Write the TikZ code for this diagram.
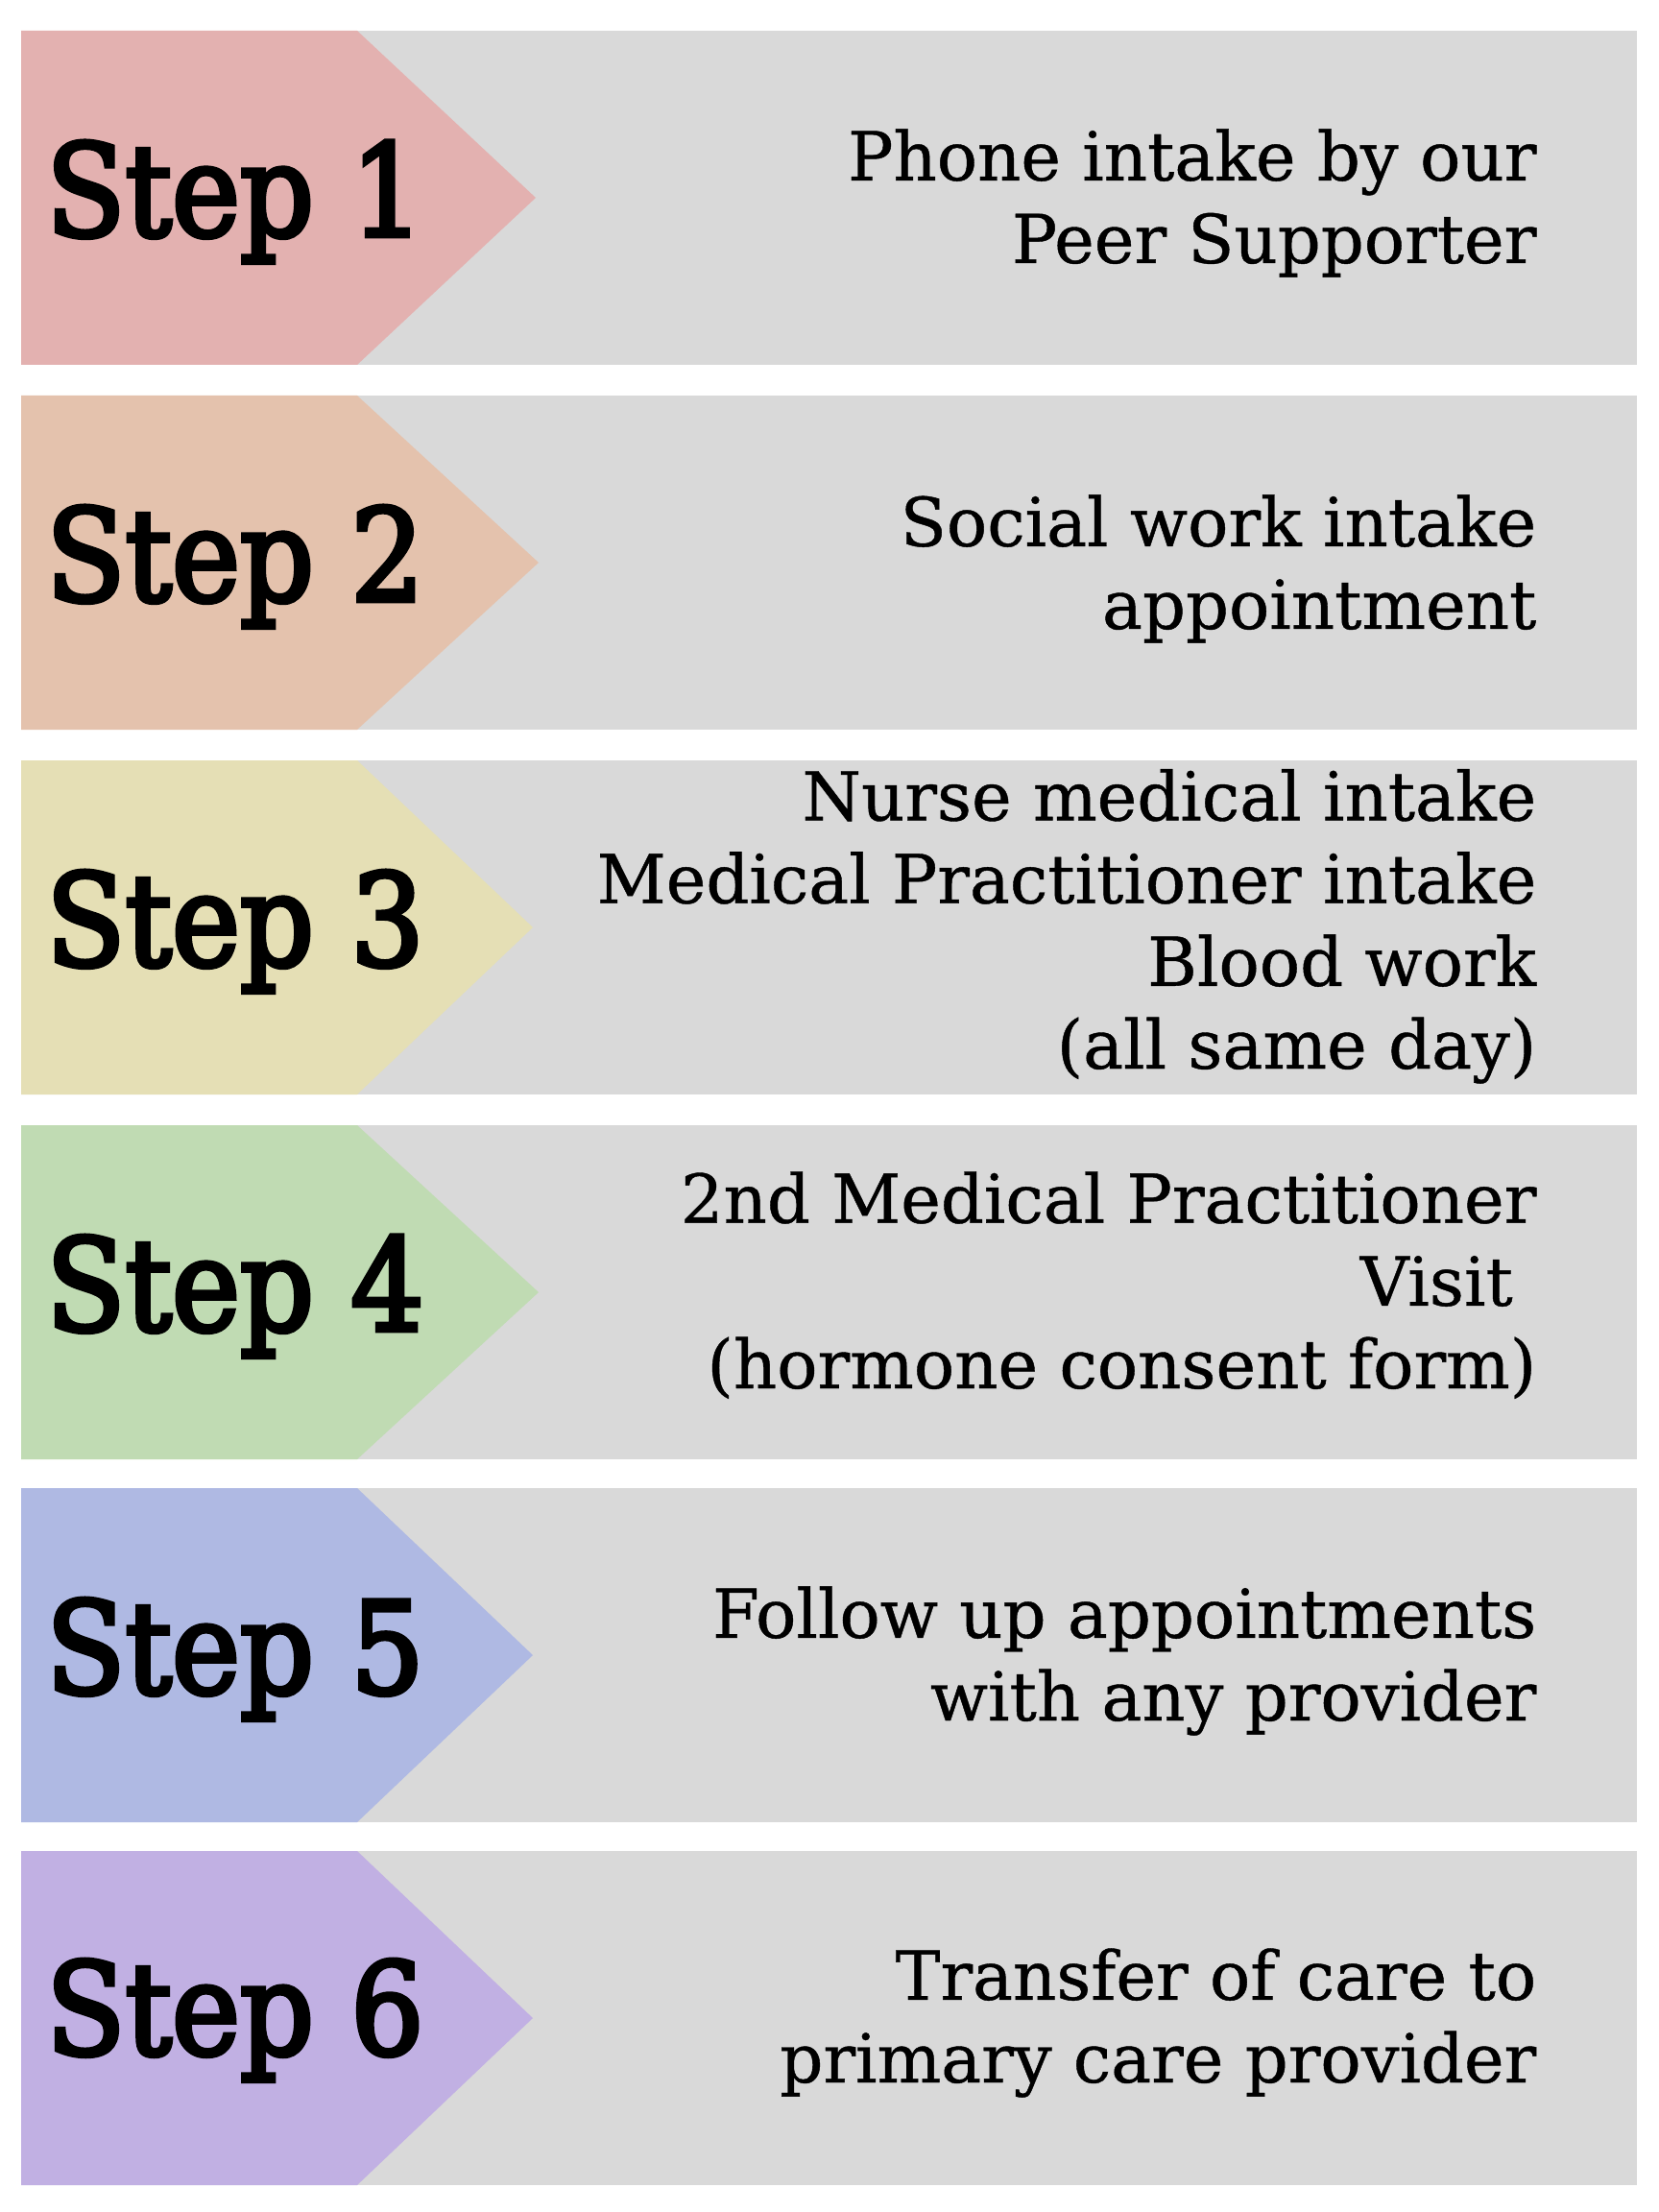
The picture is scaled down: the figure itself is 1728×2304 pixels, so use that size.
\documentclass[tikz,border=0pt]{standalone}
\usepackage{fontspec}
\setmainfont{DejaVu Serif}[FakeBold=0.6]
\newfontfamily\stepfont{DejaVu Serif}[FakeStretch=0.9, FakeBold=3.5]

\definecolor{boxgray}{RGB}{217,217,217}
\definecolor{stepred}{RGB}{227,177,176}
\definecolor{steporange}{RGB}{228,194,173}
\definecolor{stepyellow}{RGB}{229,223,181}
\definecolor{stepgreen}{RGB}{192,219,179}
\definecolor{stepblue}{RGB}{175,185,227}
\definecolor{steppurple}{RGB}{193,176,227}

\begin{document}
\begin{tikzpicture}[x=0.01cm, y=-0.01cm,
        stepbox/.style={fill=boxgray},
        steplabel/.style={anchor=base, inner sep=0pt, font=\stepfont\fontsize{38}{40}\selectfont},
        steptext/.style={anchor=base east, align=right, inner sep=0pt, font=\fontsize{20}{24.5}\selectfont}]
        \useasboundingbox (0, 0) rectangle (1728, 2304);
        \fill[white] (0, 0) rectangle (1728, 2304);

        % Step 1
        \fill[stepbox] (22, 32) rectangle (1705, 380);
        \fill[stepred] (22, 32) -- (372, 32) -- (558, 206) -- (372, 380) -- (22, 380) -- cycle;
        \node[steplabel] (s1) at (245, 246) {Step 1};
        \node[steptext] (t1) at (1601, 274) {Phone intake by our\\Peer Supporter};

        % Step 2
        \fill[stepbox] (22, 412) rectangle (1705, 760);
        \fill[steporange] (22, 412) -- (372, 412) -- (561, 586) -- (372, 760) -- (22, 760) -- cycle;
        \node[steplabel] (s2) at (245, 626) {Step 2};
        \node[steptext] (t2) at (1601, 655) {Social work intake\\appointment};

        % Step 3
        \fill[stepbox] (22, 792) rectangle (1705, 1140);
        \fill[stepyellow] (22, 792) -- (372, 792) -- (555, 966) -- (372, 1140) -- (22, 1140) -- cycle;
        \node[steplabel] (s3) at (245, 1006) {Step 3};
        \node[steptext] (t3) at (1601, 1113) {Nurse medical intake\\Medical Practitioner intake\\Blood work\\(all same day)};

        % Step 4
        \fill[stepbox] (22, 1172) rectangle (1705, 1520);
        \fill[stepgreen] (22, 1172) -- (372, 1172) -- (561, 1346) -- (372, 1520) -- (22, 1520) -- cycle;
        \node[steplabel] (s4) at (245, 1386) {Step 4};
        \node[steptext] (t4) at (1601, 1446) {2nd Medical Practitioner\\Visit\rule{0.35em}{0pt}\\(hormone consent form)};

        % Step 5
        \fill[stepbox] (22, 1550) rectangle (1705, 1898);
        \fill[stepblue] (22, 1550) -- (372, 1550) -- (555, 1724) -- (372, 1898) -- (22, 1898) -- cycle;
        \node[steplabel] (s5) at (245, 1764) {Step 5};
        \node[steptext] (t5) at (1601, 1792) {Follow up appointments\\with any provider};

        % Step 6
        \fill[stepbox] (22, 1928) rectangle (1705, 2276);
        \fill[steppurple] (22, 1928) -- (372, 1928) -- (555, 2102) -- (372, 2276) -- (22, 2276) -- cycle;
        \node[steplabel] (s6) at (245, 2140) {Step 6};
        \node[steptext] (t6) at (1601, 2169) {Transfer of care to\\primary care provider};
    \end{tikzpicture}
\end{document}
